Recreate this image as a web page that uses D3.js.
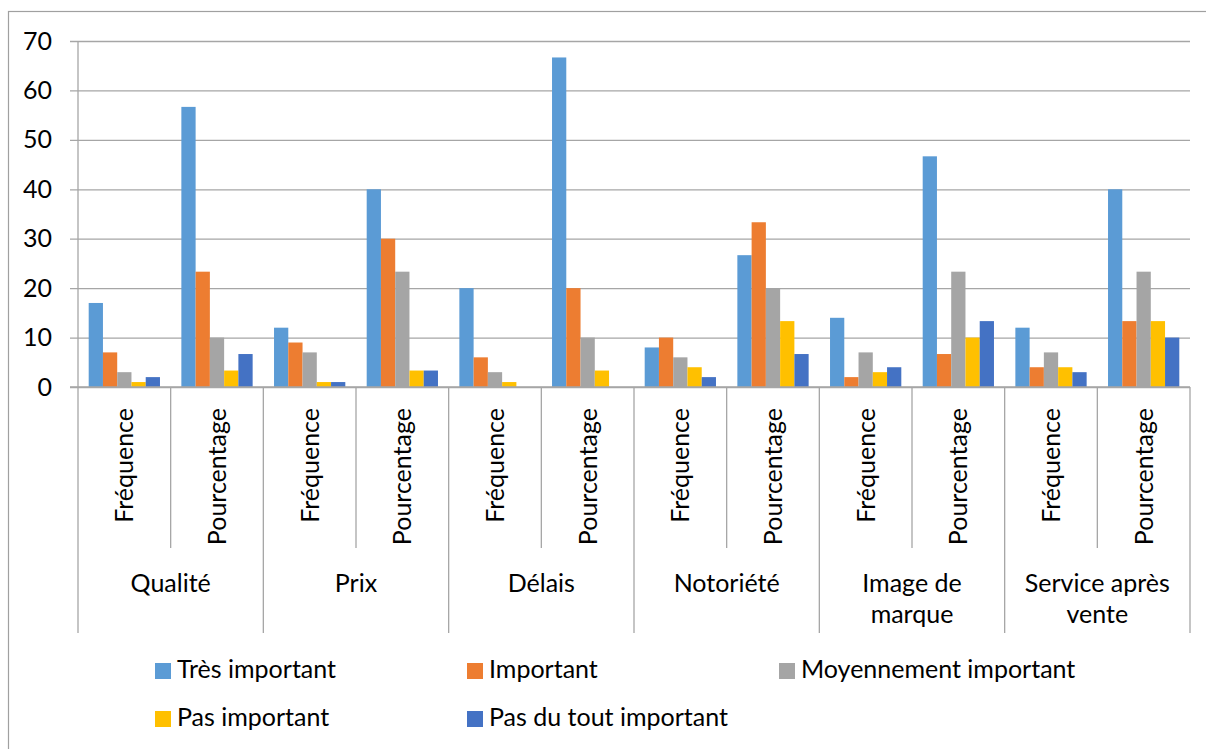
<!DOCTYPE html>
<html>
<head>
<meta charset="utf-8">
<script src="https://cdn.jsdelivr.net/npm/d3@7/dist/d3.min.js"></script>
<style>
  html, body { margin: 0; padding: 0; background: #fff; }
  svg text { font-family: Lato, "Open Sans", sans-serif; fill: #000; }
</style>
</head>
<body>
<svg id="chart" width="1206" height="749"></svg>
<script>
// Criteria and the two measures shown for each of them
const categories = ["Qualité", "Prix", "Délais", "Notoriété", "Image de marque", "Service après vente"];
const categoryLines = [["Qualité"], ["Prix"], ["Délais"], ["Notoriété"], ["Image de", "marque"], ["Service après", "vente"]];
const measures = ["Fréquence", "Pourcentage"];

// One value per (criterion, measure), in order
const seriesNames = ["Très important", "Important", "Moyennement important", "Pas important", "Pas du tout important"];
const tresImportant       = [17, 56.67, 12, 40,    20, 66.67, 8, 26.67, 14, 46.67, 12, 40];
const important           = [7, 23.33,  9, 30,     6, 20,     10, 33.33, 2, 6.67,  4, 13.33];
const moyennementImportant= [3, 10,     7, 23.33,  3, 10,     6, 20,     7, 23.33, 7, 23.33];
const pasImportant        = [1, 3.33,   1, 3.33,   1, 3.33,   4, 13.33,  3, 10,    4, 13.33];
const pasDuToutImportant  = [2, 6.67,   1, 3.33,   0, 0,      2, 6.67,   4, 13.33, 3, 10];
const seriesValues = [tresImportant, important, moyennementImportant, pasImportant, pasDuToutImportant];
const colors = ["#5B9BD5", "#ED7D31", "#A5A5A5", "#FFC000", "#4472C4"];

const yTicks = [0, 10, 20, 30, 40, 50, 60, 70];

const svg = d3.select("#chart");
const gridColor = "#a6a6a6";
const fontSize = "25px";

// Chart frame
svg.append("rect")
  .attr("x", 8.5).attr("y", 11.5)
  .attr("width", 1400).attr("height", 900)
  .attr("fill", "none").attr("stroke", "#a0a0a0").attr("stroke-width", 1.2);

const plotLeft = 78, plotRight = 1190, plotTop = 41, plotBase = 387;

const y = d3.scaleLinear().domain([0, 70]).range([plotBase, plotTop]);
const xCat = d3.scaleBand().domain(categories).range([plotLeft, plotRight]).padding(0);
const xMeas = d3.scaleBand().domain(measures).range([0, xCat.bandwidth()]).padding(0);
const xSer = d3.scaleBand().domain(seriesNames).range([0, xMeas.bandwidth()])
  .paddingInner(0).paddingOuter(0.75);

// Gridlines and value axis
const yAxis = d3.axisLeft(y).tickValues(yTicks).tickSize(-(plotRight - plotLeft)).tickSizeOuter(0).tickPadding(26);
const gy = svg.append("g").attr("transform", `translate(${plotLeft},0)`).call(yAxis);
gy.select(".domain").remove();
gy.selectAll(".tick line").attr("stroke", gridColor).attr("stroke-width", 1.3)
  .attr("x1", -8);
gy.selectAll(".tick text")
  .attr("font-size", fontSize).attr("fill", "#000")
  .attr("font-family", "Lato, 'Open Sans', sans-serif");

// Bars
const rows = [];
categories.forEach((c, ci) => {
  measures.forEach((m, mi) => {
    seriesNames.forEach((s, si) => {
      rows.push({ c, m, s, si, v: seriesValues[si][ci * measures.length + mi] });
    });
  });
});

svg.append("g").selectAll("rect").data(rows).join("rect")
  .attr("x", d => xCat(d.c) + xMeas(d.m) + xSer(d.s))
  .attr("y", d => y(d.v))
  .attr("width", xSer.bandwidth())
  .attr("height", d => y(0) - y(d.v))
  .attr("fill", d => colors[d.si]);

// Category axis baseline and separators
const axisG = svg.append("g");
axisG.append("line")
  .attr("x1", plotLeft - 8).attr("x2", plotRight).attr("y1", plotBase).attr("y2", plotBase)
  .attr("stroke", gridColor).attr("stroke-width", 1.3);

// Long separators between criteria (the first one is also the value axis line)
const groupEdges = categories.map(c => xCat(c)).concat([plotRight]);
axisG.selectAll(".long").data(groupEdges).join("line")
  .attr("x1", d => d).attr("x2", d => d)
  .attr("y1", (d, i) => i === 0 ? plotTop : plotBase)
  .attr("y2", 633)
  .attr("stroke", gridColor).attr("stroke-width", 1.3);

// Short separators between the two measures
axisG.selectAll(".short").data(categories).join("line")
  .attr("x1", c => xCat(c) + xMeas(measures[1]))
  .attr("x2", c => xCat(c) + xMeas(measures[1]))
  .attr("y1", plotBase).attr("y2", 548)
  .attr("stroke", gridColor).attr("stroke-width", 1.3);

// Rotated measure labels
const measLabels = [];
categories.forEach(c => measures.forEach(m => measLabels.push({ c, m })));
axisG.selectAll(".meas").data(measLabels).join("text")
  .attr("transform", d => `translate(${xCat(d.c) + xMeas(d.m) + xMeas.bandwidth() / 2},408) rotate(-90)`)
  .attr("text-anchor", "end")
  .attr("dy", "0.36em")
  .attr("font-size", fontSize)
  .text(d => d.m);

// Criterion labels
categories.forEach((c, ci) => {
  const t = axisG.append("text")
    .attr("x", xCat(c) + xCat.bandwidth() / 2)
    .attr("y", 592)
    .attr("text-anchor", "middle")
    .attr("font-size", fontSize);
  categoryLines[ci].forEach((line, li) => {
    t.append("tspan")
      .attr("x", xCat(c) + xCat.bandwidth() / 2)
      .attr("dy", li === 0 ? 0 : 31)
      .text(line);
  });
});

// Legend
const legendX = [155, 467, 779];
const legendRows = [671, 719];
const legend = svg.append("g");
seriesNames.forEach((s, i) => {
  const lx = legendX[i % 3], ly = legendRows[Math.floor(i / 3)];
  legend.append("rect")
    .attr("x", lx).attr("y", ly - 8)
    .attr("width", 16).attr("height", 16)
    .attr("fill", colors[i]);
  legend.append("text")
    .attr("x", lx + 22).attr("y", ly + 7)
    .attr("font-size", fontSize)
    .text(s);
});
</script>
</body>
</html>
